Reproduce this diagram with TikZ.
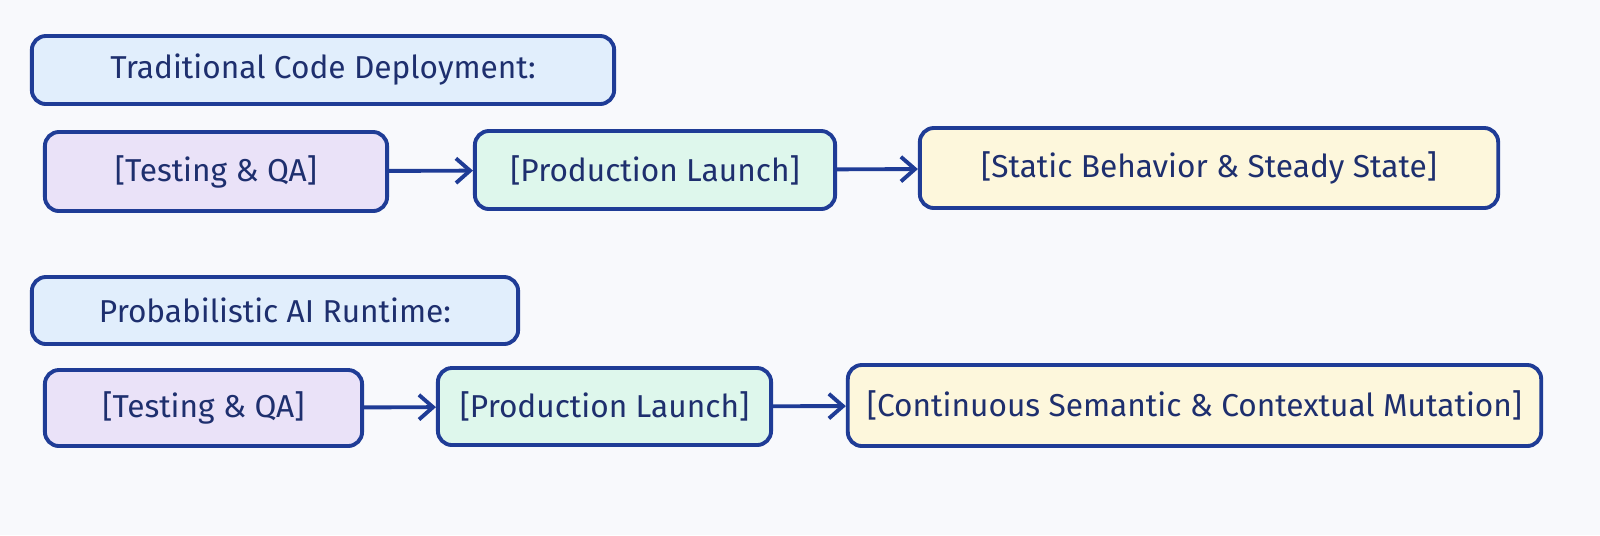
\documentclass[tikz,border=0pt]{standalone}
\usepackage{fontspec}
\setmainfont{Fira Sans}
\usetikzlibrary{arrows.meta}
\begin{document}
\begin{tikzpicture}[x=0.01cm,y=-0.01cm,
  box/.style={draw=edge,line width=1.1pt,rounded corners=4pt,inner sep=0pt,text=txt,font=\fontsize{9pt}{11pt}\selectfont},
  arr/.style={draw=edge,line width=1.1pt,-{Straight Barb[length=4pt,width=7pt]}}]
\definecolor{edge}{HTML}{1F3C96}
\definecolor{txt}{HTML}{1E2F6E}
\definecolor{tb}{HTML}{E1EEFC}
\definecolor{pu}{HTML}{EAE2F8}
\definecolor{gr}{HTML}{DEF7EC}
\definecolor{ye}{HTML}{FDF7DC}
\fill[fill={rgb,255:red,248;green,249;blue,252}] (0,0) rectangle (1600,535);
\useasboundingbox (0,0) rectangle (1600,535);
\node[box,fill=tb,minimum width=5.82cm,minimum height=0.68cm] (t1) at (323,70) {Traditional Code Deployment:};
\node[box,fill=pu,minimum width=3.42cm,minimum height=0.79cm] (a1) at (216,171.5) {[Testing \& QA]};
\node[box,fill=gr,minimum width=3.60cm,minimum height=0.78cm] (a2) at (655,170) {[Production Launch]};
\node[box,fill=ye,minimum width=5.78cm,minimum height=0.80cm] (a3) at (1209,168) {[Static Behavior \& Steady State]};
\node[box,fill=tb,minimum width=4.86cm,minimum height=0.67cm] (t2) at (275,310.5) {Probabilistic AI Runtime:};
\node[box,fill=pu,minimum width=3.17cm,minimum height=0.76cm] (b1) at (203.5,408) {[Testing \& QA]};
\node[box,fill=gr,minimum width=3.33cm,minimum height=0.77cm] (b2) at (604.5,406.5) {[Production Launch]};
\node[box,fill=ye,minimum width=6.93cm,minimum height=0.81cm] (b3) at (1194.5,405.5) {[Continuous Semantic \& Contextual Mutation]};
\draw[arr] (a1) -- (a2);
\draw[arr] (a2) -- (a3);
\draw[arr] (b1) -- (b2);
\draw[arr] (b2) -- (b3);
\end{tikzpicture}
\end{document}
